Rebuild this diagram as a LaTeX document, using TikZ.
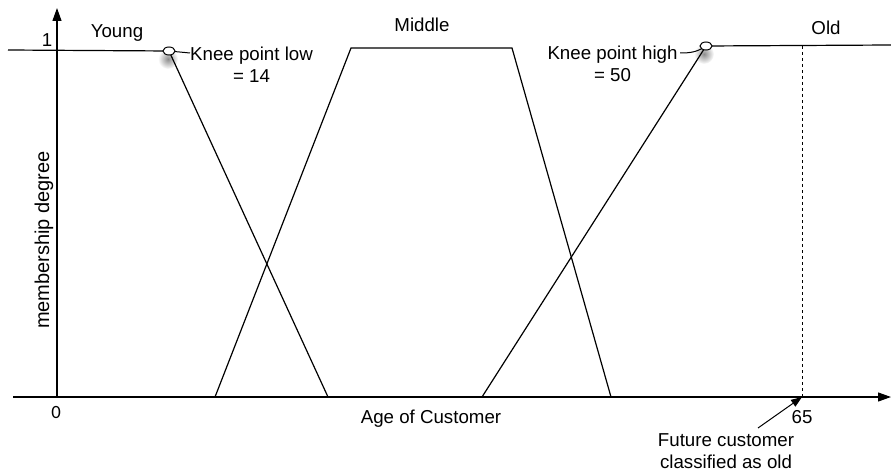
\documentclass[tikz,border=0pt]{standalone}
\usepackage{fontspec}
\setmainfont{Liberation Sans}
\newfontfamily\digitfont{Carlito}
\usetikzlibrary{arrows.meta}

\begin{document}
\begin{tikzpicture}[x=1pt,y=-1pt,
  curve/.style={line width=1.2pt, line join=miter},
  axis/.style={line width=1.2pt, -{Triangle[length=13pt,width=9pt]}},
  lbl/.style={font=\fontsize{18.7}{22}\selectfont, inner sep=0pt, anchor=base},
  twoline/.style={lbl, align=center},
  knee/.style={draw=black, fill=white, line width=1pt},
  glow/.style={inner color=black!45, outer color=white}
]
\useasboundingbox (0,0) rectangle (891,473);

% key points of the membership functions
\coordinate (O) at (57,397);
\coordinate (ytip) at (57,8);
\coordinate (xstart) at (13,397);
\coordinate (xtip) at (891,397);
\coordinate (youngL) at (8,50);
\coordinate (kneeLow) at (169,51);
\coordinate (youngEnd) at (328,397);
\coordinate (midA) at (215,397);
\coordinate (midB) at (351,48);
\coordinate (midC) at (512,48);
\coordinate (midD) at (611,397);
\coordinate (oldStart) at (482,397);
\coordinate (kneeHigh) at (706,46);
\coordinate (oldR) at (891,45);
\coordinate (cust) at (802,46);
\coordinate (custX) at (802,397);

% soft shadows under the knee markers
\shade[glow] (168,59) circle (10pt);
\shade[glow] (704,54) circle (10pt);

% axes
\draw[axis] (O) -- (ytip);
\draw[axis] (xstart) -- (xtip);

% membership functions
\draw[curve] (youngL) -- (kneeLow) -- (youngEnd);
\draw[curve] (midA) -- (midB) -- (midC) -- (midD);
\draw[curve] (oldStart) -- (kneeHigh) -- (oldR);
\draw[line width=1pt, dashed] (cust) -- (custX);

% knee point markers and their labels (base = baseline of the last line)
\node[twoline] (lowlbl) at (251.5,83) {Knee point low\\= 14};
\node[twoline] (highlbl) at (612.5,82) {Knee point high\\= 50};
\coordinate (lowlblW) at (190,53);
\coordinate (highlblE) at (680,53);
\draw[line width=1pt] (kneeLow) -- (lowlblW);
\draw[line width=1pt] (highlblE) to[out=0,in=215] (kneeHigh);
\draw[knee] (kneeLow) circle [x radius=6pt, y radius=4pt];
\draw[knee] (kneeHigh) circle [x radius=6pt, y radius=4pt];

% set names and axis labels
\node[lbl] (young) at (117,38) {Young};
\node[lbl] (middle) at (422,32) {Middle};
\node[lbl] (old) at (826,35) {Old};
\node[lbl] (one) at (47,47) {1};
\node[lbl, font=\digitfont\fontsize{18.7}{22}\selectfont] (zero) at (56,418) {0};
\node[lbl] (agelbl) at (431,423) {Age of Customer};
\node[lbl] (sixtyfive) at (802,423) {65};
\node[font=\fontsize{20}{24}\selectfont, inner sep=0pt, rotate=90] (mdeg) at (44,240) {membership degree};

% the new customer
\node[twoline] (future) at (726,468) {Future customer\\classified as old};
\coordinate (futureTail) at (758,428);
\draw[line width=1pt, -{Triangle[length=11pt,width=8pt]}] (futureTail) -- (custX);
\end{tikzpicture}
\end{document}
